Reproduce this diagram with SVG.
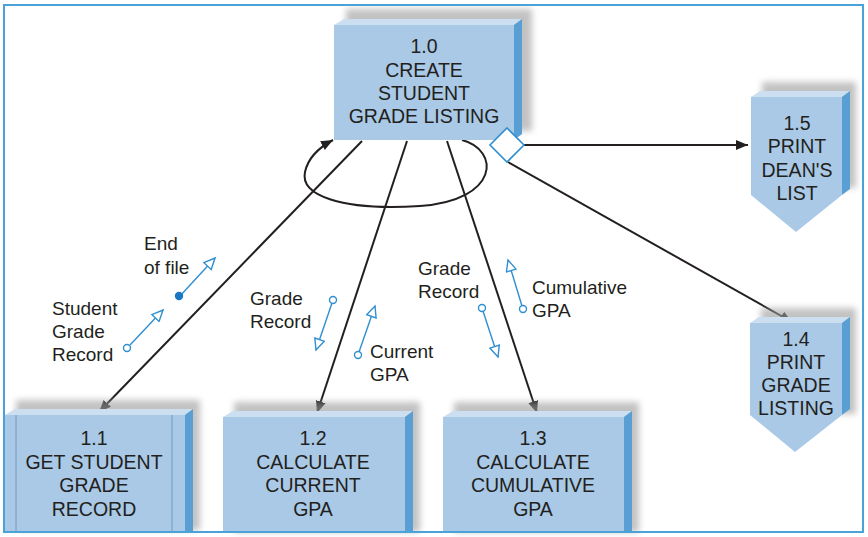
<svg xmlns="http://www.w3.org/2000/svg" width="868" height="537" viewBox="0 0 868 537">
<style>
.front{fill:#a9c9e6}
.top{fill:#cbdff0}
.side{fill:#5a9fd4}
.shadow{fill:#9a9a9a;opacity:0.6;filter:url(#blur)}
.bt{font-family:"Liberation Sans",Arial,sans-serif;font-size:19.5px;fill:#231f20;text-anchor:middle}
.lb{font-family:"Liberation Sans",Arial,sans-serif;font-size:19px;fill:#231f20}
.conn{stroke:#231f20;stroke-width:2;fill:none}
.cpl{stroke:#2f8fd0;stroke-width:1.4;fill:none}
.ring{fill:#fff;stroke:#2f8fd0;stroke-width:1.4}
</style>
<defs>
<filter id="blur" x="-20%" y="-20%" width="140%" height="140%"><feGaussianBlur stdDeviation="3"/></filter>
<marker id="ah" markerUnits="userSpaceOnUse" markerWidth="14" markerHeight="12" refX="12" refY="5" orient="auto" viewBox="0 0 14 10">
<path d="M0,0 L12,5 L0,10 Z" fill="#231f20"/>
</marker>
<marker id="oh" markerUnits="userSpaceOnUse" markerWidth="14" markerHeight="12" refX="11" refY="5" orient="auto" viewBox="-1 -1 14 12">
<path d="M0,0 L11,5 L0,10 Z" fill="#fff" stroke="#2f8fd0" stroke-width="1.4"/>
</marker>
</defs>
<rect x="0" y="0" width="868" height="537" fill="#fff"/>

<g id="connectors">
<path class="conn" d="M462,140 C500,150 500,200 420,206 C340,211 300,195 305,172 C308,158 320,147 333,140" marker-end="url(#ah)"/>
<line class="conn" x1="362" y1="141" x2="99" y2="412" marker-end="url(#ah)"/>
<line class="conn" x1="407" y1="141" x2="317" y2="413" marker-end="url(#ah)"/>
<line class="conn" x1="447" y1="141" x2="537" y2="413" marker-end="url(#ah)"/>
<line class="conn" x1="523" y1="145" x2="748" y2="145" marker-end="url(#ah)"/>
<line class="conn" x1="508" y1="162" x2="792" y2="322" marker-end="url(#ah)"/>
</g>

<g id="n1_0">
<rect class="shadow" x="346" y="9" width="186" height="122"/>
<polygon class="top" points="334,25 344,19 522,19 514,25"/>
<polygon class="side" points="514,25 522,19 522,134 514,140"/>
<rect class="front" x="334" y="25" width="180" height="115"/>
<text class="bt" x="424" y="53">1.0</text>
<text class="bt" x="424" y="77">CREATE</text>
<text class="bt" x="424" y="100">STUDENT</text>
<text class="bt" x="424" y="123">GRADE LISTING</text>
<polygon points="507,128 524,145 507,162 490,145" fill="#fff" stroke="#2f8fd0" stroke-width="1.6"/>
</g>

<g id="n1_1">
<rect class="shadow" x="16" y="400" width="184" height="130"/>
<polygon class="top" points="5,415 15,409 193,409 185,415"/>
<polygon class="side" points="185,415 193,409 193,532 185,532"/>
<rect class="front" x="5" y="415" width="180" height="117"/>
<line x1="16" y1="415" x2="16" y2="532" stroke="#6f9cc6" stroke-width="1"/>
<line x1="172" y1="415" x2="172" y2="532" stroke="#6f9cc6" stroke-width="1"/>
<text class="bt" x="94" y="445">1.1</text>
<text class="bt" x="94" y="469">GET STUDENT</text>
<text class="bt" x="94" y="492">GRADE</text>
<text class="bt" x="94" y="516">RECORD</text>
</g>

<g id="n1_2">
<rect class="shadow" x="234" y="402" width="186" height="130"/>
<polygon class="top" points="223,417 233,411 413,411 405,417"/>
<polygon class="side" points="405,417 413,411 413,532 405,532"/>
<rect class="front" x="223" y="417" width="182" height="115"/>
<text class="bt" x="313" y="445">1.2</text>
<text class="bt" x="313" y="469">CALCULATE</text>
<text class="bt" x="313" y="492">CURRENT</text>
<text class="bt" x="313" y="516">GPA</text>
</g>

<g id="n1_3">
<rect class="shadow" x="454" y="402" width="185" height="130"/>
<polygon class="top" points="443,417 453,411 632,411 624,417"/>
<polygon class="side" points="624,417 632,411 632,532 624,532"/>
<rect class="front" x="443" y="417" width="181" height="115"/>
<text class="bt" x="533" y="445">1.3</text>
<text class="bt" x="533" y="469">CALCULATE</text>
<text class="bt" x="533" y="492">CUMULATIVE</text>
<text class="bt" x="533" y="516">GPA</text>
</g>

<g id="n1_5">
<rect class="shadow" x="762" y="82" width="94" height="106"/>
<polygon class="top" points="751,97 760,91 850,91 842,97"/>
<polygon class="side" points="842,97 850,91 850,189 842,195"/>
<polygon class="front" points="751,97 842,97 842,195 796,232 751,195"/>
<text class="bt" x="797" y="130">1.5</text>
<text class="bt" x="797" y="153">PRINT</text>
<text class="bt" x="797" y="177">DEAN'S</text>
<text class="bt" x="797" y="200">LIST</text>
</g>

<g id="n1_4">
<rect class="shadow" x="761" y="308" width="95" height="106"/>
<polygon class="top" points="750,323 759,317 850,317 842,323"/>
<polygon class="side" points="842,323 850,317 850,409 842,415"/>
<polygon class="front" points="750,323 842,323 842,415 795,452 750,415"/>
<text class="bt" x="796" y="346">1.4</text>
<text class="bt" x="796" y="369">PRINT</text>
<text class="bt" x="796" y="392">GRADE</text>
<text class="bt" x="796" y="415">LISTING</text>
</g>

<g id="couples">
<line class="cpl" x1="130" y1="345" x2="163" y2="310" marker-end="url(#oh)"/>
<circle class="ring" cx="127" cy="348" r="3.5"/>
<line class="cpl" x1="180" y1="296" x2="215" y2="258" marker-end="url(#oh)"/>
<circle cx="179" cy="296" r="4.2" fill="#1a78c2"/>
<line class="cpl" x1="332" y1="303" x2="316" y2="350" marker-end="url(#oh)"/>
<circle class="ring" cx="333" cy="300" r="3.5"/>
<line class="cpl" x1="359" y1="352" x2="375" y2="306" marker-end="url(#oh)"/>
<circle class="ring" cx="358" cy="355" r="3.5"/>
<line class="cpl" x1="483" y1="311" x2="498" y2="357" marker-end="url(#oh)"/>
<circle class="ring" cx="482" cy="308" r="3.5"/>
<line class="cpl" x1="522" y1="306" x2="508" y2="260" marker-end="url(#oh)"/>
<circle class="ring" cx="523" cy="309" r="3.5"/>
</g>

<g id="labels">
<text class="lb" x="52" y="315">Student</text>
<text class="lb" x="52" y="338">Grade</text>
<text class="lb" x="52" y="361">Record</text>
<text class="lb" x="144" y="250">End</text>
<text class="lb" x="144" y="274">of file</text>
<text class="lb" x="250" y="305">Grade</text>
<text class="lb" x="250" y="328">Record</text>
<text class="lb" x="370" y="358">Current</text>
<text class="lb" x="370" y="381">GPA</text>
<text class="lb" x="418" y="275">Grade</text>
<text class="lb" x="418" y="298">Record</text>
<text class="lb" x="532" y="294">Cumulative</text>
<text class="lb" x="532" y="317">GPA</text>
</g>

<rect x="4" y="5" width="859" height="527" fill="none" stroke="#4aa3d8" stroke-width="2"/>
</svg>
